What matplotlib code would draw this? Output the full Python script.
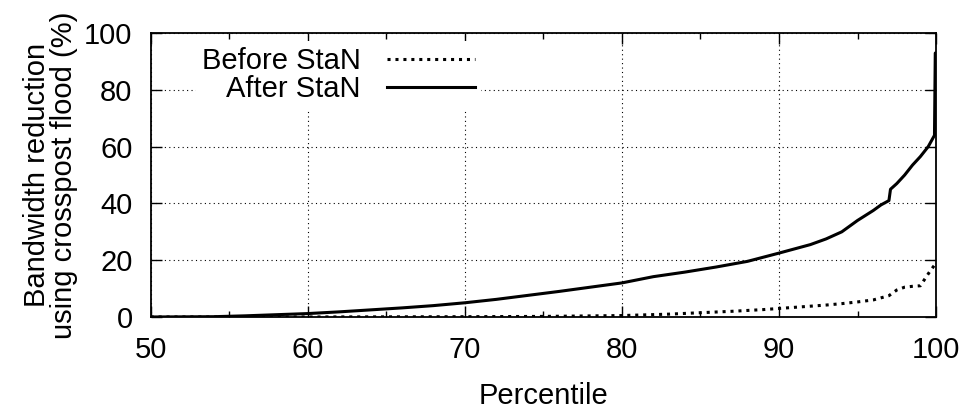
import matplotlib
matplotlib.use("Agg")
import matplotlib.pyplot as plt
from matplotlib.ticker import MultipleLocator

plt.rcParams['font.family'] = ['Liberation Sans', 'DejaVu Sans']

# percentile -> bandwidth reduction (%)
after_pct = [50, 54, 56, 58, 60, 62, 64, 66, 68, 70, 72, 74, 76, 78, 80, 82, 84, 86, 88,
             90, 91, 92, 93, 94, 95, 96, 96.5, 97.0, 97.1, 97.5, 98, 98.5, 99, 99.5, 99.9,
             99.95, 100]
after_val = [0, 0.1, 0.4, 0.8, 1.2, 1.8, 2.5, 3.2, 4.0, 5.0, 6.2, 7.6, 9.0, 10.5, 12.0, 14.2,
             15.8, 17.6, 19.6, 22.5, 24.0, 25.5, 27.5, 30.0, 34.0, 37.5, 39.5, 41, 45, 47, 50,
             53.5, 56.5, 60, 64, 93, 93]

before_pct = [50, 60, 70, 75, 80, 83, 85, 87, 89, 90, 91, 92, 93, 94, 95, 96, 97, 97.5, 98,
              98.5, 99, 99.3, 99.6, 99.8, 100]
before_val = [0, 0, 0.1, 0.2, 0.5, 1.0, 1.5, 2.0, 2.6, 3.0, 3.4, 3.8, 4.2, 4.7, 5.3, 6.0, 7.5,
              9.5, 10.5, 10.8, 11, 13.5, 16, 17.5, 19]

FS = 21

fig = plt.figure(figsize=(9.7, 4.09), dpi=100)
ax = fig.add_axes([0.1553, 0.225, 0.8097, 0.694])

ax.plot(before_pct, before_val, color='black', lw=2.2, linestyle=(0, (1, 1.6)),
        label='Before StaN')
ax.plot(after_pct, after_val, color='black', lw=2.2, label='After StaN')

ax.set_xlim(50, 100)
ax.set_ylim(0, 100)
ax.xaxis.set_major_locator(MultipleLocator(10))
ax.xaxis.set_minor_locator(MultipleLocator(5))
ax.yaxis.set_major_locator(MultipleLocator(20))
ax.tick_params(which='both', direction='in', top=True, right=True, labelsize=FS)
ax.tick_params(which='major', length=8, width=1)
ax.tick_params(which='minor', length=4, width=1)
ax.tick_params(axis='x', pad=14)
ax.tick_params(axis='y', pad=13)
ax.grid(True, which='major', color='black', linestyle=(0, (1, 3)), lw=0.8)
for s in ax.spines.values():
    s.set_linewidth(1.3)

ax.set_xlabel('Percentile', fontsize=FS, labelpad=13)
ax.set_ylabel('Bandwidth reduction\nusing crosspost flood (%)', fontsize=FS,
              labelpad=4.5, linespacing=0.95)

leg = ax.legend(loc='upper right', bbox_to_anchor=(0.42, 0.972), borderaxespad=0,
                markerfirst=False, fontsize=FS, handlelength=3.0, labelspacing=0.0,
                handletextpad=0.9, borderpad=0.2, framealpha=1, fancybox=False)
leg.get_frame().set_edgecolor('none')
leg._legend_box.align = 'right'

fig.savefig('out.png', dpi=100)
